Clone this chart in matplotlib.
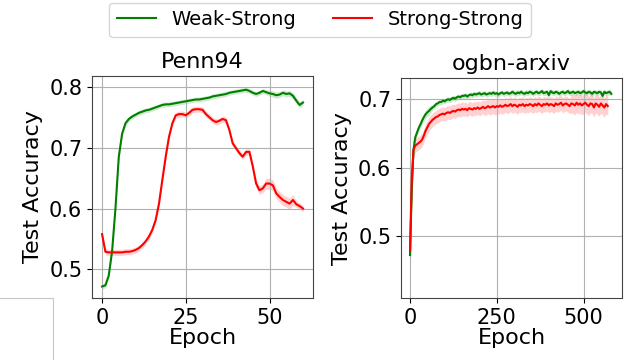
import numpy as np
import matplotlib
matplotlib.use("Agg")
import matplotlib.pyplot as plt
from matplotlib.patches import Rectangle

# Penn94, epochs 0..60
penn_ws = [0.472, 0.474, 0.490, 0.530, 0.600, 0.685, 0.723, 0.740, 0.747, 0.751,
           0.754, 0.757, 0.759, 0.761, 0.762, 0.764, 0.766, 0.768, 0.770, 0.771,
           0.771, 0.772, 0.773, 0.774, 0.775, 0.776, 0.777, 0.778, 0.779, 0.779,
           0.780, 0.781, 0.782, 0.784, 0.785, 0.786, 0.787, 0.788, 0.790, 0.791,
           0.792, 0.793, 0.794, 0.795, 0.793, 0.790, 0.788, 0.790, 0.793, 0.791,
           0.789, 0.788, 0.786, 0.787, 0.790, 0.788, 0.789, 0.785, 0.777, 0.770, 0.774]
penn_ws_std = [0.004] * 50 + [0.005] * 11
penn_ss = [0.558, 0.529, 0.528, 0.528, 0.528, 0.528, 0.528, 0.529, 0.529, 0.530,
           0.532, 0.535, 0.540, 0.546, 0.554, 0.565, 0.581, 0.608, 0.647, 0.685,
           0.718, 0.740, 0.753, 0.755, 0.755, 0.753, 0.757, 0.762, 0.763, 0.763,
           0.762, 0.755, 0.750, 0.745, 0.742, 0.744, 0.747, 0.745, 0.729, 0.707,
           0.699, 0.691, 0.685, 0.693, 0.693, 0.669, 0.641, 0.630, 0.633, 0.641,
           0.641, 0.638, 0.625, 0.619, 0.614, 0.611, 0.608, 0.614, 0.607, 0.604, 0.600]
penn_ss_std = [0.005] * 45 + [0.007] * 4 + [0.009] * 9 + [0.005] * 3

# ogbn-arxiv, every 5 epochs
arxiv_ws = [0.472, 0.567, 0.626, 0.644, 0.651, 0.658, 0.663, 0.669, 0.674, 0.678,
            0.681, 0.683, 0.686, 0.688, 0.690, 0.693, 0.694, 0.696, 0.696, 0.698,
            0.697, 0.699, 0.700, 0.699, 0.701, 0.702, 0.701, 0.703, 0.704, 0.703,
            0.705, 0.705, 0.706, 0.704, 0.706, 0.707, 0.706, 0.708, 0.707, 0.708,
            0.709, 0.707, 0.708, 0.709, 0.707, 0.708, 0.709, 0.708, 0.710, 0.708,
            0.709, 0.707, 0.709, 0.710, 0.708, 0.709, 0.710, 0.708, 0.709, 0.711,
            0.709, 0.708, 0.710, 0.709, 0.711, 0.709, 0.708, 0.710, 0.709, 0.711,
            0.710, 0.708, 0.710, 0.711, 0.709, 0.710, 0.712, 0.709, 0.710, 0.711,
            0.706, 0.712, 0.710, 0.709, 0.711, 0.710, 0.708, 0.710, 0.711, 0.709,
            0.710, 0.712, 0.709, 0.710, 0.711, 0.709, 0.710, 0.711, 0.709, 0.710,
            0.712, 0.710, 0.709, 0.711, 0.710, 0.708, 0.711, 0.710, 0.709, 0.711,
            0.710, 0.705, 0.711, 0.709, 0.710, 0.711, 0.708]
arxiv_ws_std = [0.045, 0.025, 0.012] + [0.006] * 10 + [0.004] * 104
arxiv_ss = [0.478, 0.582, 0.626, 0.632, 0.634, 0.636, 0.638, 0.641, 0.647, 0.654,
            0.659, 0.664, 0.667, 0.670, 0.672, 0.674, 0.675, 0.677, 0.678, 0.679,
            0.678, 0.680, 0.681, 0.680, 0.682, 0.683, 0.682, 0.684, 0.685, 0.684,
            0.686, 0.685, 0.686, 0.684, 0.687, 0.686, 0.685, 0.687, 0.686, 0.688,
            0.686, 0.687, 0.689, 0.687, 0.688, 0.690, 0.688, 0.689, 0.690, 0.688,
            0.690, 0.689, 0.691, 0.689, 0.690, 0.692, 0.690, 0.691, 0.693, 0.690,
            0.692, 0.691, 0.689, 0.692, 0.691, 0.693, 0.690, 0.692, 0.691, 0.693,
            0.692, 0.690, 0.693, 0.691, 0.694, 0.692, 0.690, 0.693, 0.692, 0.694,
            0.691, 0.693, 0.692, 0.690, 0.694, 0.692, 0.693, 0.695, 0.691, 0.693,
            0.694, 0.692, 0.690, 0.694, 0.693, 0.691, 0.695, 0.692, 0.694, 0.691,
            0.693, 0.695, 0.692, 0.690, 0.694, 0.693, 0.688, 0.694, 0.692, 0.689,
            0.694, 0.691, 0.688, 0.693, 0.690]
arxiv_ss_std = [0.05, 0.03, 0.015] + [0.010] * 40 + [0.011] * 50 + [0.014] * 22

plt.rcParams['font.size'] = 15

fig = plt.figure(figsize=(6.28, 3.6), dpi=100)
ax1 = fig.add_axes([0.1465, 0.172, 0.352, 0.617])
ax2 = fig.add_axes([0.6385, 0.172, 0.352, 0.611])


def draw(ax, step, ws, ws_std, ss, ss_std):
    for vals, std, c, lab in [(ws, ws_std, 'green', 'Weak-Strong'),
                              (ss, ss_std, 'red', 'Strong-Strong')]:
        y = np.array(vals)
        s = np.array(std)
        x = np.arange(len(y)) * step
        ax.plot(x, y, color=c, linewidth=1.5, label=lab)
        ax.fill_between(x, y - s, y + s, color=c, alpha=0.18, linewidth=0)
    ax.grid(True, color='#b0b0b0', linewidth=0.8)
    ax.set_xlabel("Epoch", fontsize=16, labelpad=0)
    ax.set_ylabel("Test Accuracy", fontsize=16)
    for sp in ax.spines.values():
        sp.set_color('#444444')


draw(ax1, 1, penn_ws, penn_ws_std, penn_ss, penn_ss_std)
ax1.set_title("Penn94", fontsize=16)
ax1.set_xlim(-3, 63)
ax1.set_ylim(0.453, 0.8176)
ax1.set_xticks([0, 25, 50])
ax1.set_yticks([0.5, 0.6, 0.7, 0.8])

draw(ax2, 5, arxiv_ws, arxiv_ws_std, arxiv_ss, arxiv_ss_std)
ax2.set_title("ogbn-arxiv", fontsize=16)
ax2.set_xlim(-26, 611)
ax2.set_ylim(0.409, 0.731)
ax2.set_xticks([0, 250, 500])
ax2.set_yticks([0.5, 0.6, 0.7])

handles, labels = ax1.get_legend_handles_labels()
fig.legend(handles, labels, loc='upper center', bbox_to_anchor=(0.51, 1.02),
           ncol=2, fontsize=14, handlelength=2.0, columnspacing=1.9)

# stray empty frame in the lower left corner
fig.patches.append(Rectangle((-0.01, -0.01), 0.0944, 0.182, transform=fig.transFigure,
                             fill=False, edgecolor='#c8c8c8', linewidth=0.8))

fig.savefig("out.png", dpi=100)
